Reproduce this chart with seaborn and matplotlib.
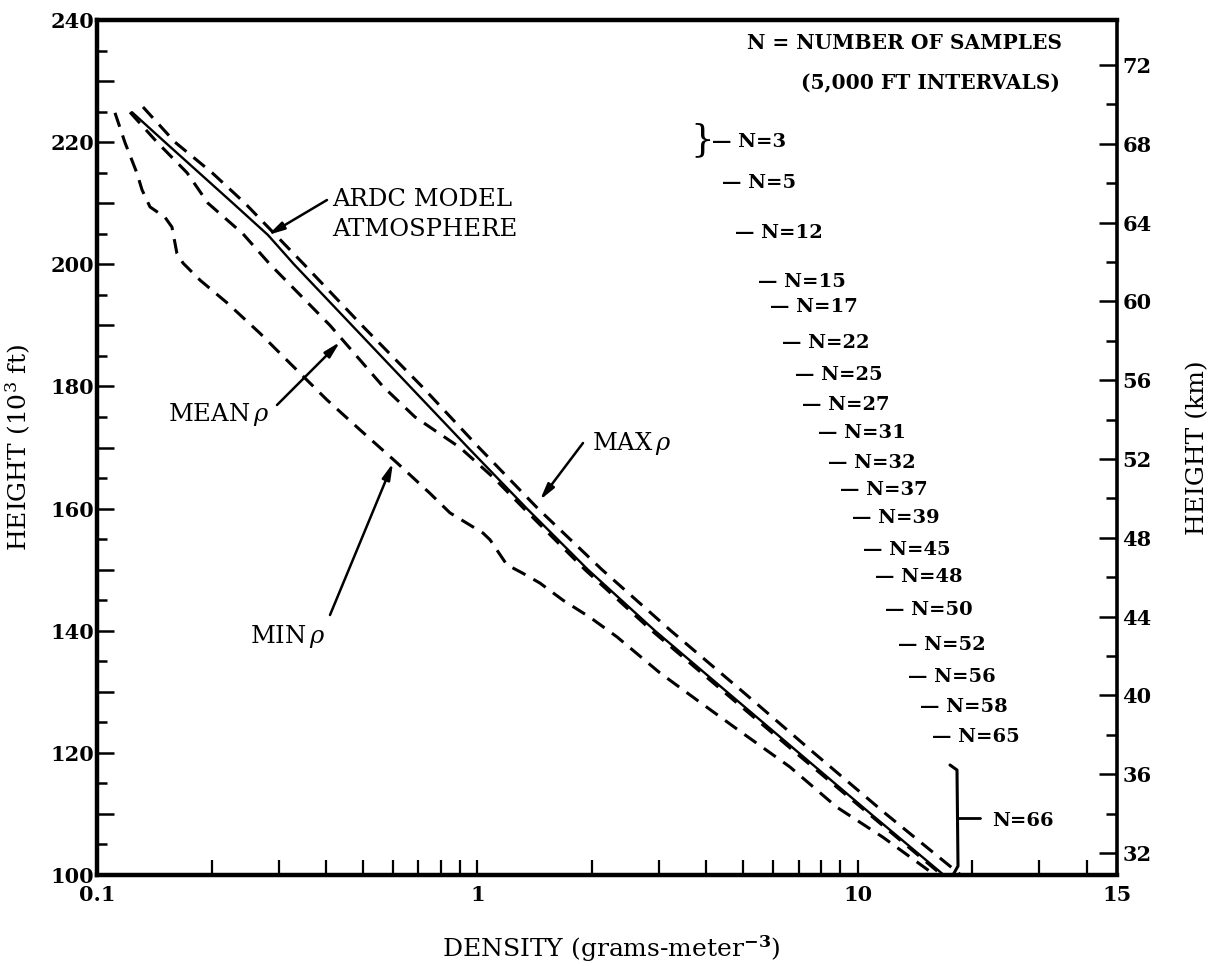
import matplotlib
matplotlib.use("Agg")
import numpy as np
import pandas as pd
import matplotlib.pyplot as plt
from matplotlib.ticker import FixedLocator, FixedFormatter, NullFormatter
from matplotlib.lines import Line2D
import seaborn as sns

# ---------------- data ----------------
ardc_height = [224.9, 220, 210, 204.8, 200, 190, 180, 170, 160, 150, 140, 130, 120, 110, 100]
ardc_density = [0.1236, 0.1509, 0.2277, 0.2814, 0.3294, 0.4679, 0.6646, 0.9441, 1.349, 1.952,
                2.928, 4.525, 6.996, 10.82, 16.83]

max_height = [225.75, 220, 215, 210, 200, 190, 180, 170, 160, 150, 140, 130, 120, 110, 100]
max_density = [0.1321, 0.1603, 0.2006, 0.2449, 0.3499, 0.4970, 0.7146, 1.009, 1.442, 2.125,
               3.224, 4.986, 7.662, 11.85, 18.65]

mean_height = [224.9, 220, 215, 210, 205, 200, 190, 180, 175, 170, 165, 160, 150, 140, 130,
               120, 110, 100]
mean_density = [0.1221, 0.1438, 0.1724, 0.1958, 0.2418, 0.2849, 0.4097, 0.5645, 0.6852, 0.8995,
                1.105, 1.325, 1.917, 2.875, 4.443, 6.872, 10.69, 16.63]

min_height = [224.8, 219.9, 214.9, 212.2, 209.4, 207.7, 206.1, 201.8, 200.2, 197.4, 193.7,
              188.7, 183.8, 177.8, 172.9, 167.5, 162.5, 159.3, 156.0, 154.9, 150.8, 149.4,
              147.8, 145.0, 142.2, 139.0, 133.1, 128.3, 123.2, 117.7, 111.1, 106.2, 100.0]
min_density = [0.1115, 0.1185, 0.1274, 0.1313, 0.1378, 0.1509, 0.1574, 0.1622, 0.1683, 0.1866,
               0.2196, 0.2682, 0.3215, 0.4022, 0.4912, 0.6143, 0.7502, 0.8468, 1.034, 1.079,
               1.195, 1.317, 1.460, 1.678, 1.976, 2.326, 3.017, 3.844, 4.986, 6.627, 8.808,
               11.63, 15.94]

n_labels = ["N=3", "N=5", "N=12", "N=15", "N=17", "N=22", "N=25", "N=27", "N=31", "N=32",
            "N=37", "N=39", "N=45", "N=48", "N=50", "N=52", "N=56", "N=58", "N=65"]
n_heights = [220.0, 213.3, 205.1, 197.1, 193.0, 187.1, 181.9, 177.0, 172.4, 167.5, 163.0,
             158.5, 153.2, 148.8, 143.4, 137.7, 132.4, 127.5, 122.6]
last_label = "N=66"

x_major = [0.1, 1, 10, 48]
x_major_labels = ["0.1", "1", "10", "15"]
x_minor = [0.2, 0.3, 0.4, 0.5, 0.6, 0.7, 0.8, 0.9, 2, 3, 4, 5, 6, 7, 8, 9, 20, 30, 40]
y_major = list(range(100, 241, 10))
y_labels = [str(v) if v % 20 == 0 else "" for v in y_major]
y_minor = list(range(105, 240, 10))
km_major = list(range(32, 73, 2))
km_labels = [str(v) if v % 4 == 0 else "" for v in km_major]

# ---------------- styling ----------------
sns.set_theme(style="white")
plt.rcParams["font.family"] = ["DejaVu Serif"]
plt.rcParams["mathtext.fontset"] = "dejavuserif"
plt.rcParams["text.color"] = "black"
plt.rcParams["axes.labelcolor"] = "black"
plt.rcParams["xtick.color"] = "black"
plt.rcParams["ytick.color"] = "black"

W, H = 1216, 966
fig = plt.figure(figsize=(W / 100, H / 100), dpi=100)
fig.patch.set_facecolor("white")
L, R, T, B = 97, 1117, 20, 875
ax = fig.add_axes([L / W, 1 - B / H, (R - L) / W, (B - T) / H])
ax.set_facecolor("white")


def fx(x):
    return x / W


def fy(y):
    return 1 - y / H


dash = (0, (4.8, 3.0))
lw_d = 2.2

df_ardc = pd.DataFrame({"density": ardc_density, "height": ardc_height})
df_max = pd.DataFrame({"density": max_density, "height": max_height})
df_mean = pd.DataFrame({"density": mean_density, "height": mean_height})
df_min = pd.DataFrame({"density": min_density, "height": min_height})

sns.lineplot(data=df_ardc, x="density", y="height", sort=False, estimator=None,
             color="black", lw=1.7, ax=ax)
for d in (df_max, df_mean, df_min):
    sns.lineplot(data=d, x="density", y="height", sort=False, estimator=None,
                 color="black", lw=lw_d, linestyle=dash, ax=ax)

ax.set_xscale("log")
ax.set_xlim(0.1, 48)
ax.set_ylim(100, 240)

ax.xaxis.set_major_locator(FixedLocator(x_major))
ax.xaxis.set_major_formatter(FixedFormatter(x_major_labels))
ax.xaxis.set_minor_locator(FixedLocator(x_minor))
ax.xaxis.set_minor_formatter(NullFormatter())
ax.yaxis.set_major_locator(FixedLocator(y_major))
ax.yaxis.set_major_formatter(FixedFormatter(y_labels))
ax.yaxis.set_minor_locator(FixedLocator(y_minor))
ax.yaxis.set_minor_formatter(NullFormatter())

ax.tick_params(axis="x", which="both", direction="in", length=11, width=1.6,
               bottom=True, top=False, pad=7, labelsize=15, colors="black")
ax.tick_params(axis="y", which="major", direction="in", length=12, width=1.8,
               left=True, right=False, pad=2, labelsize=15, colors="black")
ax.tick_params(axis="y", which="minor", direction="in", length=7, width=1.8,
               left=True, right=False)
for lab in ax.get_xticklabels() + ax.get_yticklabels():
    lab.set_fontweight("bold")

for s in ax.spines.values():
    s.set_visible(True)
    s.set_color("black")
    s.set_linewidth(3.2)
ax.spines["right"].set_linewidth(2.6)

ax2 = ax.twinx()
ax2.set_ylim(30.88, 74.28)
ax2.yaxis.set_major_locator(FixedLocator(km_major))
ax2.yaxis.set_major_formatter(FixedFormatter(km_labels))
ax2.tick_params(axis="y", which="major", direction="in", length=13, width=1.8,
                right=True, pad=4, labelsize=15, colors="black")
for t, lab in zip(ax2.yaxis.get_major_ticks(), km_labels):
    if lab == "":
        t.tick2line.set_markersize(8)
for lab in ax2.get_yticklabels():
    lab.set_fontweight("bold")
for s in ax2.spines.values():
    s.set_visible(False)

ax.set_xlabel("DENSITY (grams-meter$^{\\mathbf{-3}}$)", fontsize=18, color="black")
ax.xaxis.set_label_coords(0.504, -0.068)
ax.set_ylabel("HEIGHT (10$^{3}$ ft)", fontsize=18, color="black")
ax.yaxis.set_label_coords(-0.063, 0.5)
ax2.set_ylabel("HEIGHT (km)", fontsize=18, color="black")
ax2.yaxis.set_label_coords(1.068, 0.5)

# ---------------- annotations ----------------
ap = dict(arrowstyle="-|>,head_length=0.8,head_width=0.2", color="black", lw=1.8,
          shrinkA=0, shrinkB=0)
fs_a = 17.5
fig.text(fx(332), fy(200), "ARDC MODEL", fontsize=fs_a, va="center", ha="left", color="black")
fig.text(fx(332), fy(230), "ATMOSPHERE", fontsize=fs_a, va="center", ha="left", color="black")
ax.annotate("", xy=(fx(268), fy(235)), xycoords="figure fraction",
            xytext=(fx(327), fy(200)), textcoords="figure fraction", arrowprops=ap)

fig.text(fx(168), fy(415), "MEAN$\\,\\rho$", fontsize=fs_a, va="center", ha="left", color="black")
ax.annotate("", xy=(fx(340), fy(342)), xycoords="figure fraction",
            xytext=(fx(277), fy(405)), textcoords="figure fraction", arrowprops=ap)

fig.text(fx(592), fy(443), "MAX$\\,\\rho$", fontsize=fs_a, va="center", ha="left", color="black")
ax.annotate("", xy=(fx(540), fy(500)), xycoords="figure fraction",
            xytext=(fx(583), fy(443)), textcoords="figure fraction", arrowprops=ap)

fig.text(fx(250), fy(636), "MIN$\\,\\rho$", fontsize=fs_a, va="center", ha="left", color="black")
ax.annotate("", xy=(fx(393), fy(463)), xycoords="figure fraction",
            xytext=(fx(330), fy(615)), textcoords="figure fraction", arrowprops=ap)

fig.text(fx(1062), fy(43), "N = NUMBER OF SAMPLES", fontsize=14.5, fontweight="bold",
         ha="right", va="center", color="black")
fig.text(fx(1060), fy(83), "(5,000 FT INTERVALS)", fontsize=14.5, fontweight="bold",
         ha="right", va="center", color="black")

n_x = [712, 722, 735, 758, 770, 782, 795, 802, 818, 828, 840, 852, 863, 875, 885, 898,
       908, 920, 932]
for lab, h, xp in zip(n_labels, n_heights, n_x):
    ax.text((xp - L) / (R - L), h, "\u2014 " + lab, transform=ax.get_yaxis_transform(),
            fontsize=14, fontweight="bold", ha="left", va="center", color="black")

# brace for N=3
fig.text(fx(702), fy(140), "}", fontsize=27, ha="center", va="center", color="black")

# bracket for N=66
fig.add_artist(Line2D([fx(950), fx(957), fx(958), fx(953)],
                      [fy(765), fy(770), fy(866), fy(875)],
                      transform=fig.transFigure, color="black", lw=2.2))
fig.add_artist(Line2D([fx(958), fx(980)], [fy(818), fy(818)],
                      transform=fig.transFigure, color="black", lw=2.0))
fig.text(fx(992), fy(821), last_label, fontsize=14, fontweight="bold", ha="left", va="center",
         color="black")

fig.savefig("out.png", dpi=100, facecolor="white")
